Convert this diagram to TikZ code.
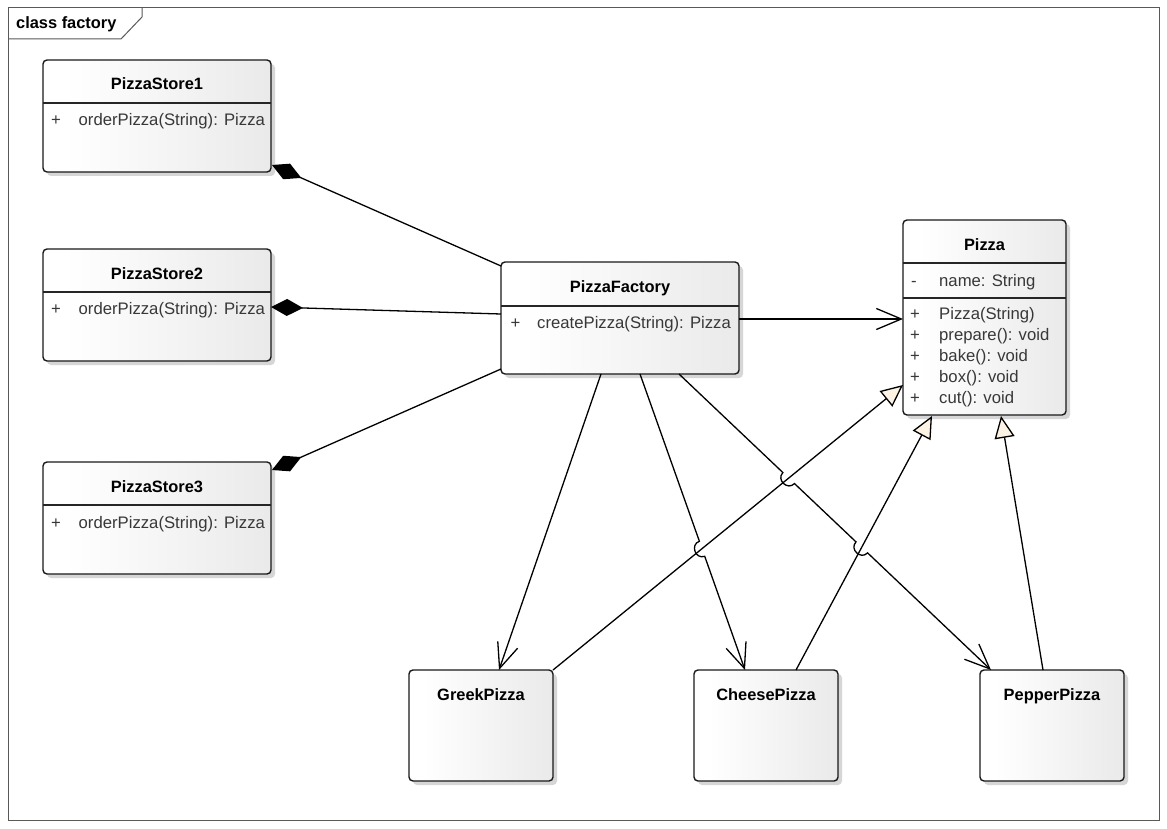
\documentclass[tikz,border=0pt]{standalone}
\usepackage{fontspec}
\setmainfont{Liberation Sans}
\usetikzlibrary{arrows.meta,calc,shadows}
\definecolor{cream}{RGB}{252,243,228}
\pgfdeclarehorizontalshading{classgrad}{100bp}{color(0bp)=(white); color(30bp)=(white); color(100bp)=(black!13)}
\begin{document}
\begin{tikzpicture}[x=1pt,y=-1pt,
  classbox/.style={draw=black!90, line width=1.4pt, rounded corners=4pt, shading=classgrad,
    drop shadow={shadow xshift=4pt, shadow yshift=-4pt, fill=black!16, opacity=1},
    anchor=north west, inner sep=0pt, outer sep=0pt},
  divline/.style={draw=black!85, line width=1.4pt},
  cname/.style={font=\fontsize{16.4}{19}\selectfont\bfseries, anchor=base, inner sep=0pt},
  member/.style={font=\fontsize{16.7}{19}\selectfont, text=black!78, anchor=base west, inner sep=0pt},
  conn/.style={draw=black, line width=1.3pt},
  assoc/.style={conn, -{Straight Barb[length=25pt, width=21pt, line width=1.3pt]}},
  comp/.style={conn, -{Diamond[length=32pt, width=17pt, fill=black]}},
  gen/.style={conn, -{Triangle[open, length=22pt, width=20pt, fill=cream, line width=1.3pt]}}
]
\useasboundingbox (0,0) rectangle (1167,829);
\fill[white] (0,0) rectangle (1167,829);

% frame
\draw[black!65, line width=1pt] (8,8) rectangle (1159,820);
\draw[black!65, line width=1pt] (8,39) -- (121,39) -- (142,17) -- (142,8);
\node[font=\fontsize{16.4}{19}\selectfont\bfseries, anchor=base west, inner sep=0pt] (title) at (16,29) {class factory};

% PizzaStore1
\node[classbox, minimum width=228pt, minimum height=112pt] (s1) at (43,60) {};
\draw[divline] ($(s1.north west)+(0,43)$) -- ($(s1.north east)+(0,43)$);
\node[cname] (s1n) at (157,90) {PizzaStore1};
\node[member] (s1p) at (51,126) {+};
\node[member] (s1m) at (78.5,126) {orderPizza(String): Pizza};

% PizzaStore2
\node[classbox, minimum width=228pt, minimum height=112pt] (s2) at (43,249) {};
\draw[divline] ($(s2.north west)+(0,43)$) -- ($(s2.north east)+(0,43)$);
\node[cname] (s2n) at (157,279) {PizzaStore2};
\node[member] (s2p) at (51,314) {+};
\node[member] (s2m) at (78.5,314) {orderPizza(String): Pizza};

% PizzaStore3
\node[classbox, minimum width=228pt, minimum height=112pt] (s3) at (43,462) {};
\draw[divline] ($(s3.north west)+(0,43)$) -- ($(s3.north east)+(0,43)$);
\node[cname] (s3n) at (157,492) {PizzaStore3};
\node[member] (s3p) at (51,528) {+};
\node[member] (s3m) at (78.5,528) {orderPizza(String): Pizza};

% PizzaFactory
\node[classbox, minimum width=238pt, minimum height=112pt] (fac) at (501,262) {};
\draw[divline] ($(fac.north west)+(0,44)$) -- ($(fac.north east)+(0,44)$);
\node[cname] (facn) at (620,292) {PizzaFactory};
\node[member] (facp) at (510.5,328) {+};
\node[member] (facm) at (537,328) {createPizza(String): Pizza};

% Pizza
\node[classbox, minimum width=163pt, minimum height=195pt] (piz) at (903,220) {};
\draw[divline] ($(piz.north west)+(0,43)$) -- ($(piz.north east)+(0,43)$);
\draw[divline] ($(piz.north west)+(0,78)$) -- ($(piz.north east)+(0,78)$);
\node[cname] (pizn) at (984.5,250) {Pizza};
\node[member] (pa1) at (911,286) {-};
\node[member] (pa2) at (939,286) {name: String};
\node[member] (pm1p) at (910,319) {+};
\node[member] (pm1) at (939,319) {Pizza(String)};
\node[member] (pm2p) at (910,340) {+};
\node[member] (pm2) at (939,340) {prepare(): void};
\node[member] (pm3p) at (910,361) {+};
\node[member] (pm3) at (939,361) {bake(): void};
\node[member] (pm4p) at (910,382) {+};
\node[member] (pm4) at (939,382) {box(): void};
\node[member] (pm5p) at (910,403) {+};
\node[member] (pm5) at (939,403) {cut(): void};

% concrete pizzas
\node[classbox, minimum width=144pt, minimum height=111pt] (greek) at (409,670) {};
\node[cname] (greekn) at (481,700) {GreekPizza};
\node[classbox, minimum width=144pt, minimum height=111pt] (cheese) at (694,670) {};
\node[cname] (cheesen) at (766,700) {CheesePizza};
\node[classbox, minimum width=144pt, minimum height=111pt] (pepper) at (980,670) {};
\node[cname] (peppern) at (1052,700) {PepperPizza};

% connector end points
\coordinate (f1) at ($(fac.north west)+(0,4)$);
\coordinate (e1) at ($(s1.south east)+(1,-7)$);
\coordinate (f2) at ($(fac.north west)+(0,52)$);
\coordinate (e2) at ($(s2.north east)+(0,58)$);
\coordinate (f3) at ($(fac.south west)+(0,-5)$);
\coordinate (e3) at ($(s3.north east)+(1,8)$);
\coordinate (fp0) at ($(fac.north east)+(0,57)$);
\coordinate (pf) at ($(piz.north west)+(0,99)$);
\coordinate (fg) at ($(fac.south west)+(100,0)$);
\coordinate (gt) at ($(greek.north west)+(90,0)$);
\coordinate (fc) at ($(fac.south west)+(139,0)$);
\coordinate (ct) at ($(cheese.north west)+(51,0)$);
\coordinate (fp) at ($(fac.south west)+(178,0)$);
\coordinate (pt) at ($(pepper.north west)+(11,0)$);
\coordinate (gp) at (greek.north east);
\coordinate (pg) at ($(piz.north west)+(0,165)$);
\coordinate (cp) at ($(cheese.north west)+(102,0)$);
\coordinate (pc) at ($(piz.south west)+(29,1)$);
\coordinate (ep) at ($(pepper.north west)+(63,0)$);
\coordinate (pe) at ($(piz.south west)+(98,1)$);

% crossings and hops
\coordinate (x1) at (intersection of fc--ct and gp--pg);
\coordinate (x2) at (intersection of fp--pt and gp--pg);
\coordinate (x3) at (intersection of fp--pt and cp--pc);
\coordinate (x1a) at ($(x1)!8pt!(fc)$);
\coordinate (x1b) at ($(x1)!8pt!(ct)$);
\coordinate (x1ac) at ($(x1a)!10pt!-90:(x1)$);
\coordinate (x1bc) at ($(x1b)!10pt!90:(x1)$);
\coordinate (x2a) at ($(x2)!8pt!(fp)$);
\coordinate (x2b) at ($(x2)!8pt!(pt)$);
\coordinate (x2ac) at ($(x2a)!10pt!-90:(x2)$);
\coordinate (x2bc) at ($(x2b)!10pt!90:(x2)$);
\coordinate (x3a) at ($(x3)!8pt!(fp)$);
\coordinate (x3b) at ($(x3)!8pt!(pt)$);
\coordinate (x3ac) at ($(x3a)!10pt!-90:(x3)$);
\coordinate (x3bc) at ($(x3b)!10pt!90:(x3)$);

% compositions
\draw[comp] (f1) -- (e1);
\draw[comp] (f2) -- (e2);
\draw[comp] (f3) -- (e3);

% associations
\draw[assoc] (fp0) -- (pf);
\draw[assoc] (fg) -- (gt);
\draw[assoc] (fc) -- (x1a) .. controls (x1ac) and (x1bc) .. (x1b) -- (ct);
\draw[assoc] (fp) -- (x2a) .. controls (x2ac) and (x2bc) .. (x2b) -- (x3a) .. controls (x3ac) and (x3bc) .. (x3b) -- (pt);

% generalizations
\draw[gen] (gp) -- (pg);
\draw[gen] (cp) -- (pc);
\draw[gen] (ep) -- (pe);
\end{tikzpicture}
\end{document}
